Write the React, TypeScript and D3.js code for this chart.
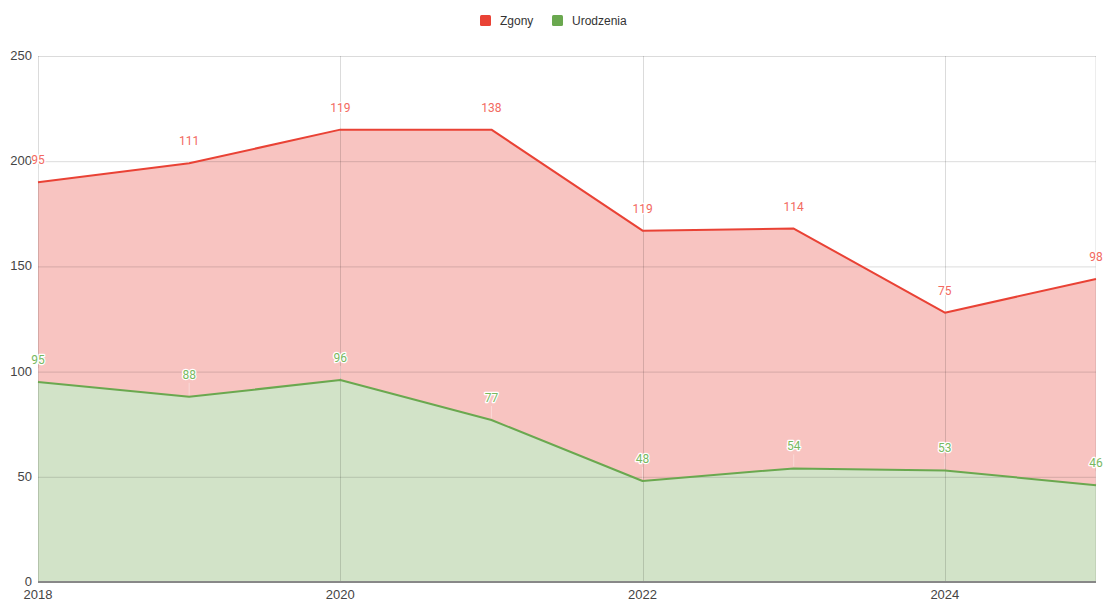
import React from "react";
import * as d3 from "d3";

const years = [2018, 2019, 2020, 2021, 2022, 2023, 2024, 2025];
const urodzenia = [95, 88, 96, 77, 48, 54, 53, 46];
const zgony = [95, 111, 119, 138, 119, 114, 75, 98];
const yTicks = [0, 50, 100, 150, 200, 250];
const xTicks = [2018, 2020, 2022, 2024];

const W = 1104;
const H = 601;
const M = { left: 38, right: 8, top: 56, bottom: 19 };

const RED = "#e94235";
const RED_FILL = "#f8c4c1";
const GREEN = "#6aa84f";
const GREEN_FILL = "#d2e3c8";

export default function App() {
  const x = d3.scaleLinear().domain([2018, 2025]).range([M.left, W - M.right]);
  const y = d3.scaleLinear().domain([0, 250]).range([H - M.bottom, M.top]);

  const rows = years.map((yr, i) => ({ yr, u: urodzenia[i], z: zgony[i] }));
  const stack = d3.stack<any>().keys(["u", "z"])(rows);
  const area = d3
    .area<any>()
    .x((d) => x(d.data.yr))
    .y0((d) => y(d[0]))
    .y1((d) => y(d[1]));
  const line = d3
    .line<any>()
    .x((d) => x(d.data.yr))
    .y((d) => y(d[1]));

  const sU = stack[0];
  const sZ = stack[1];
  const axisFont = "'Liberation Sans', Arial, sans-serif";
  const labelFont = "Roboto, 'Liberation Sans', sans-serif";

  return (
    <svg
      width={W}
      height={H}
      style={{ position: "absolute", left: 0, top: 0, background: "#fff" }}
    >
      {/* legend */}
      <g fontFamily={axisFont} fontSize={12} fill="#333">
        <rect x={480} y={15} width={11} height={11} rx={1.5} fill={RED} />
        <text x={500} y={25}>Zgony</text>
        <rect x={552} y={15} width={11} height={11} rx={1.5} fill={GREEN} />
        <text x={572} y={25}>Urodzenia</text>
      </g>

      {/* areas */}
      <path d={area(sZ) || ""} fill={RED_FILL} />
      <path d={area(sU) || ""} fill={GREEN_FILL} />

      {/* gridlines over fills */}
      <g stroke="#000" strokeOpacity={0.14} strokeWidth={1}>
        {yTicks.filter((t) => t > 0).map((t) => (
          <line key={t} x1={M.left} x2={W - M.right} y1={y(t) + 0.5} y2={y(t) + 0.5} />
        ))}
        {xTicks.map((t) => (
          <line key={t} x1={Math.round(x(t)) + 0.5} x2={Math.round(x(t)) + 0.5} y1={M.top} y2={H - M.bottom} />
        ))}
        <line x1={W - M.right - 0.5} x2={W - M.right - 0.5} y1={M.top} y2={H - M.bottom} strokeOpacity={0.07} />
      </g>

      {/* label leaders */}
      <g stroke="#fff" strokeOpacity={0.35} strokeWidth={1}>
        {sZ.map((d, i) => (
          <line key={"lz" + i} x1={x(years[i])} x2={x(years[i])} y1={y(d[1]) - 14} y2={y(d[1]) - 2} />
        ))}
        {sU.map((d, i) => (
          <line key={"lu" + i} x1={x(years[i])} x2={x(years[i])} y1={y(d[1]) - 14} y2={y(d[1]) - 2} />
        ))}
      </g>

      {/* lines */}
      <path d={line(sZ) || ""} fill="none" stroke={RED} strokeWidth={2} strokeLinejoin="round" />
      <path d={line(sU) || ""} fill="none" stroke={GREEN} strokeWidth={2} strokeLinejoin="round" />

      {/* baseline */}
      <line x1={M.left} x2={W - M.right} y1={y(0)} y2={y(0)} stroke="#888" strokeWidth={2} />

      {/* y axis labels */}
      <g fontFamily={axisFont} fontSize={13} fill="#444" textAnchor="end">
        {yTicks.map((t) => (
          <text key={t} x={M.left - 6} y={y(t) + 4}>
            {t}
          </text>
        ))}
      </g>

      {/* x axis labels */}
      <g fontFamily={axisFont} fontSize={13} fill="#444" textAnchor="middle">
        {xTicks.map((t) => (
          <text key={t} x={x(t)} y={H - 2}>
            {t}
          </text>
        ))}
      </g>

      {/* data labels */}
      <g fontFamily={labelFont} fontSize={12} textAnchor="middle">
        {sZ.map((d, i) => (
          <text
            key={"tz" + i}
            x={x(years[i])}
            y={y(d[1]) - 18}
            fill="#f26a61"
            stroke="#fff"
            strokeWidth={2.5}
            paintOrder="stroke"
            strokeLinejoin="round"
          >
            {zgony[i]}
          </text>
        ))}
        {sU.map((d, i) => (
          <text
            key={"tu" + i}
            x={x(years[i])}
            y={y(d[1]) - 18}
            fill="#78b85f"
            stroke="#fff"
            strokeWidth={2.5}
            paintOrder="stroke"
            strokeLinejoin="round"
          >
            {urodzenia[i]}
          </text>
        ))}
      </g>
    </svg>
  );
}
